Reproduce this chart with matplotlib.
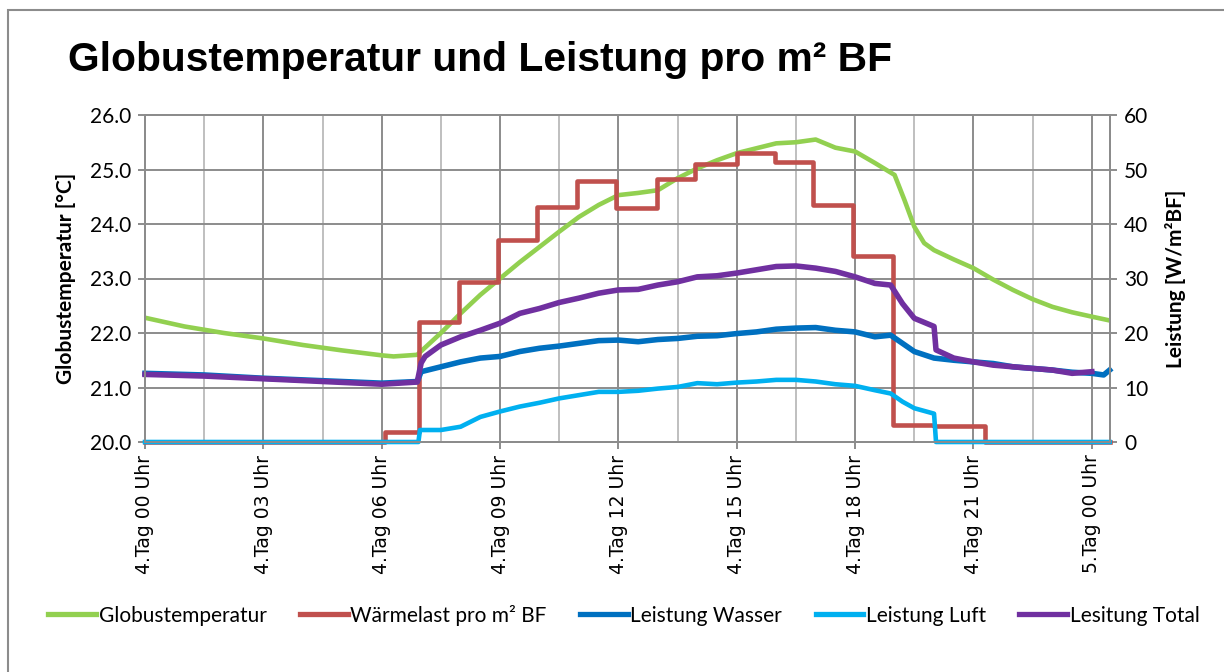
import matplotlib.pyplot as plt
from matplotlib.lines import Line2D

# Data (hours since 4.Tag 00 Uhr)
green_h = [0, 1, 2, 3, 4, 5, 6, 6.3, 6.9, 7.5, 8, 8.5, 9, 9.5, 10, 10.5, 11, 11.5,
           12, 12.5, 13, 13.5, 14, 14.5, 15, 15.5, 16, 16.5, 17, 17.5, 18, 18.5,
           19, 19.25, 19.5, 19.75, 20, 20.5, 21, 21.5, 22, 22.5, 23, 23.5, 24, 24.45]
globustemp = [22.28, 22.12, 22.00, 21.90, 21.78, 21.68, 21.59, 21.57, 21.60, 22.00,
              22.36, 22.70, 23.00, 23.30, 23.58, 23.86, 24.13, 24.35, 24.53, 24.57,
              24.62, 24.84, 25.02, 25.17, 25.30, 25.39, 25.48, 25.50, 25.55, 25.40,
              25.33, 25.12, 24.90, 24.44, 23.95, 23.65, 23.52, 23.35, 23.19, 22.98,
              22.79, 22.62, 22.48, 22.38, 22.30, 22.23]

red_h = [0, 6.08, 6.95, 7.97, 8.96, 9.93, 10.94, 11.95, 12.97, 13.94, 15.0, 15.97,
         16.94, 17.95, 18.97, 20.0, 21.3, 24.45]
waermelast = [0, 1.9, 22.1, 29.4, 37.0, 43.2, 47.8, 42.9, 48.3, 51.1, 53.0, 51.4,
              43.5, 34.2, 3.1, 2.9, 0, 0]

blue_h = [0, 1.5, 3, 4.5, 6, 6.9, 7.0, 7.5, 8, 8.5, 9, 9.5, 10, 10.5, 11, 11.5, 12,
          12.5, 13, 13.5, 14, 14.5, 15, 15.5, 16, 16.5, 17, 17.5, 18, 18.5, 18.9,
          19.2, 19.5, 20, 20.5, 21, 21.5, 22, 22.5, 23, 23.5, 24, 24.3, 24.45]
wasser = [12.6, 12.3, 11.7, 11.25, 10.8, 11.1, 12.9, 13.8, 14.7, 15.4, 15.7, 16.6,
          17.2, 17.6, 18.1, 18.6, 18.7, 18.4, 18.8, 19.0, 19.4, 19.5, 19.9, 20.2,
          20.7, 20.9, 21.0, 20.5, 20.2, 19.3, 19.6, 18.1, 16.6, 15.4, 15.0, 14.7,
          14.4, 13.8, 13.5, 13.2, 12.8, 12.6, 12.3, 13.2]

cyan_h = [0, 6.93, 6.97, 7.5, 8, 8.5, 9, 9.5, 10, 10.5, 11, 11.5, 12, 12.5, 13, 13.5,
          14, 14.5, 15, 15.5, 16, 16.5, 17, 17.5, 18, 18.5, 18.9, 19.2, 19.5, 19.9,
          20.0, 20.05, 24.45]
luft = [0, 0, 2.2, 2.2, 2.8, 4.6, 5.6, 6.5, 7.2, 8.0, 8.6, 9.2, 9.2, 9.4, 9.8, 10.1,
        10.8, 10.6, 10.9, 11.1, 11.4, 11.4, 11.1, 10.6, 10.3, 9.5, 8.9, 7.4, 6.2,
        5.4, 5.2, 0, 0]

purple_h = [0, 1.5, 3, 4.5, 6, 6.9, 7.0, 7.1, 7.5, 8, 8.5, 9, 9.5, 10, 10.5, 11,
            11.5, 12, 12.5, 13, 13.5, 14, 14.5, 15, 15.5, 16, 16.5, 17, 17.5, 18,
            18.5, 18.9, 19.2, 19.5, 20.0, 20.05, 20.5, 21, 21.5, 22, 22.5, 23, 23.5, 24]
total = [12.4, 12.1, 11.6, 11.1, 10.6, 11.0, 14.5, 15.7, 17.8, 19.3, 20.5, 21.8,
         23.6, 24.5, 25.6, 26.4, 27.3, 27.9, 28.0, 28.8, 29.4, 30.3, 30.5, 31.0,
         31.6, 32.2, 32.3, 31.9, 31.3, 30.3, 29.1, 28.8, 25.4, 22.7, 21.2, 16.9,
         15.4, 14.7, 14.1, 13.8, 13.5, 13.2, 12.6, 12.9]

tick_hours = [0, 3, 6, 9, 12, 15, 18, 21, 24]
tick_labels = ['4.Tag 00 Uhr', '4.Tag 03 Uhr', '4.Tag 06 Uhr', '4.Tag 09 Uhr',
               '4.Tag 12 Uhr', '4.Tag 15 Uhr', '4.Tag 18 Uhr', '4.Tag 21 Uhr',
               '5.Tag 00 Uhr']

c_green, c_red, c_blue, c_cyan, c_purple = '#92D050', '#C0504D', '#0070C0', '#00B0F0', '#7030A0'
grid_dark, grid_light = '#8C8C8C', '#BFBFBF'

fig = plt.figure(figsize=(12.24, 6.72), dpi=100)
ax = fig.add_axes([145 / 1224, 1 - 442 / 672, (1110 - 145) / 1224, (442 - 115) / 672])
ax2 = ax.twinx()

# gridlines
ax.set_xlim(0, 24.46)
ax.set_ylim(20, 26)
ax2.set_ylim(0, 60)
ax.set_xticks(tick_hours)
ax.set_xticks([1.5 + 3 * i for i in range(8)], minor=True)
ax.set_yticks([20, 21, 22, 23, 24, 25, 26])
ax2.set_yticks([0, 10, 20, 30, 40, 50, 60])
ax.grid(True, which='major', axis='both', color=grid_dark, linewidth=1.4)
ax.grid(True, which='minor', axis='x', color=grid_light, linewidth=1.4)
ax.set_axisbelow(True)

lw = 3.3
ax.plot(green_h, globustemp, color=c_green, linewidth=lw, solid_capstyle='butt')
ax2.step(red_h, waermelast, where='post', color=c_red, linewidth=lw, clip_on=False)
ax2.plot(blue_h, wasser, color=c_blue, linewidth=lw + 0.7, clip_on=False)
ax2.plot(cyan_h, luft, color=c_cyan, linewidth=lw, clip_on=False)
ax2.plot(purple_h, total, color=c_purple, linewidth=lw + 0.7, clip_on=False)

for a in (ax, ax2):
    for s in a.spines.values():
        s.set_color(grid_dark)
        s.set_linewidth(1.4)

ax.set_xticklabels(tick_labels, rotation=90, fontsize=13.5, family='DejaVu Sans')
ax.tick_params(axis='x', which='major', direction='out', length=5, width=1.4,
               color=grid_dark, pad=4)
ax.tick_params(axis='x', which='minor', length=0)
ax.set_yticklabels(['%.1f' % v for v in [20, 21, 22, 23, 24, 25, 26]])
ax.tick_params(axis='y', direction='out', length=5, width=1.4, color=grid_dark,
               labelsize=15, pad=5)
ax2.tick_params(axis='y', direction='out', length=5, width=1.4, color=grid_dark,
                labelsize=15, pad=5)
for lab in ax.get_yticklabels() + ax2.get_yticklabels():
    lab.set_family('Lato')

ax.set_ylabel('Globustemperatur [°C]', family='Lato', fontweight='bold', fontsize=15)
ax.yaxis.set_label_coords((76 - 145) / (1110 - 145), 0.5)
ax2.set_ylabel('Leistung [W/m²BF]', family='Lato', fontweight='bold', fontsize=15,
               rotation=90)
ax2.yaxis.set_label_coords((1165 - 145) / (1110 - 145), 0.5)

fig.text(68 / 1224, 1 - 60 / 672, 'Globustemperatur und Leistung pro m² BF',
         family='Liberation Sans', fontweight='bold',
         fontsize=29.3, ha='left', va='center')

# legend
handles = [Line2D([], [], color=c, linewidth=3.8) for c in
           (c_green, c_red, c_blue, c_cyan, c_purple)]
labels = ['Globustemperatur', 'Wärmelast pro m² BF', 'Leistung Wasser',
          'Leistung Luft', 'Lesitung Total']
fig.legend(handles, labels, loc='center', bbox_to_anchor=(624 / 1224, 1 - 615 / 672),
           ncol=5, frameon=False, handlelength=2.3, handletextpad=0.12,
           columnspacing=1.6, prop={'family': 'Lato', 'size': 15})

# outer chart border
fig.patches.append(plt.Rectangle((8 / 1224, -0.1), 1.2, 1 - 10 / 672 + 0.1,
                                 transform=fig.transFigure, fill=False,
                                 edgecolor=grid_dark, linewidth=1.5))

fig.savefig('out.png', dpi=100)
